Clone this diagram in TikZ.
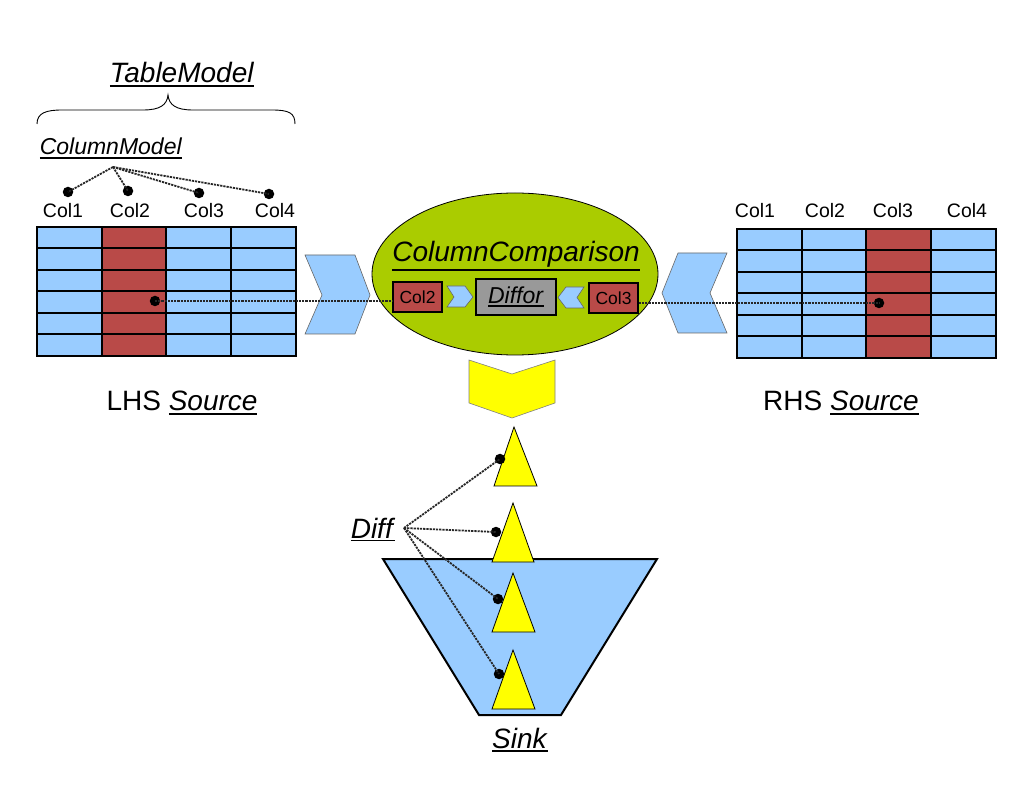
\documentclass[tikz,border=0pt]{standalone}
\usepackage{fontspec}
\setmainfont{Liberation Sans}
\usetikzlibrary{shapes.geometric}
\definecolor{cellblue}{RGB}{153,204,255}
\definecolor{cellred}{RGB}{185,74,72}
\definecolor{olivegreen}{RGB}{170,204,0}
\definecolor{boxgray}{RGB}{153,153,153}
\definecolor{yel}{RGB}{255,255,0}
\newcommand\fsz[1]{\fontsize{#1}{#1}\selectfont}
\newsavebox\ulbox
\newcommand\ulx[1]{\sbox\ulbox{#1}\leavevmode\rlap{\vrule height \dimexpr-\dp\ulbox-1.6pt\relax depth \dimexpr\dp\ulbox+3.4pt\relax width \wd\ulbox}\usebox\ulbox}
\begin{document}
\begin{tikzpicture}[x=1pt,y=-1pt,
  tbl/.style={line width=2pt, line cap=rect},
  lbl/.style={inner sep=0pt, anchor=base, font=\fsz{19.5}},
  big/.style={inner sep=0pt, anchor=base, font=\fsz{28}},
  chev/.style={fill=cellblue, draw=black!60, line width=0.6pt, line join=miter},
  ychev/.style={fill=yel, draw=black!50, line width=0.6pt},
  tri/.style={fill=yel, draw=black, line width=0.8pt, line join=miter},
  dotl/.style={dash pattern=on 2.2pt off 1pt, line width=1.8pt, black!85},
  dot/.style={circle, fill=black, inner sep=0pt, minimum size=10.5pt},
  cbox/.style={draw=black, line width=1.6pt, inner sep=0pt, font=\fsz{17.5}}
]
\useasboundingbox (0,0) rectangle (1034,799);

% ---------- TableModel brace ----------
\node[big] (tm) at (182,83) {\ulx{\textit{TableModel}}};
\draw[line width=0.9pt] (37,124) .. controls (37,113) and (46,110) .. (62,110) -- (143,110)
   .. controls (160,110) and (167,105) .. (168,95)
   .. controls (169,105) and (176,110) .. (193,110) -- (272,110)
   .. controls (289,110) and (295,113) .. (295,124);

% ---------- ColumnModel ----------
\node[inner sep=0pt, anchor=base, font=\fsz{23}] (cm) at (111,155) {\ulx{\textit{ColumnModel}}};
\coordinate (cmA) at (113,167);
\node[dot] (d1) at (68,192) {};
\node[dot] (d2) at (128,191) {};
\node[dot] (d3) at (199,193) {};
\node[dot] (d4) at (269,194) {};
\foreach \d in {d1,d2,d3,d4} \draw[dotl] (cmA) -- (\d.center);

% ---------- LHS table ----------
\node[lbl] (l1) at (63,218) {Col1};
\node[lbl] (l2) at (130,218) {Col2};
\node[lbl] (l3) at (204,218) {Col3};
\node[lbl] (l4) at (275,218) {Col4};
\fill[cellblue] (37,227) rectangle (296,356);
\fill[cellred] (102,227) rectangle (166,356);
\foreach \x in {37,102,166,231,296} \draw[tbl] (\x,227) -- (\x,356);
\foreach \y in {227,248.5,270,291.5,313,334.5,356} \draw[tbl] (37,\y) -- (296,\y);
\node[big] (lhs) at (182,411) {LHS \ulx{\textit{Source}}};

% ---------- RHS table ----------
\node[lbl] (r1) at (755,218) {Col1};
\node[lbl] (r2) at (825,218) {Col2};
\node[lbl] (r3) at (893,218) {Col3};
\node[lbl] (r4) at (967,218) {Col4};
\fill[cellblue] (737,229) rectangle (996,358);
\fill[cellred] (866,229) rectangle (931,358);
\foreach \x in {737,802,866,931,996} \draw[tbl] (\x,229) -- (\x,358);
\foreach \y in {229,250.5,272,293.5,315,336.5,358} \draw[tbl] (737,\y) -- (996,\y);
\node[big] (rhs) at (841,411) {RHS \ulx{\textit{Source}}};

% ---------- big chevrons ----------
\draw[chev] (305,255) -- (355,255) -- (370,295) -- (355,334) -- (305,334) -- (322,295) -- cycle;
\draw[chev] (727,253) -- (678,253) -- (662,293) -- (678,333) -- (727,333) -- (710,293) -- cycle;

% ---------- ColumnComparison ----------
\node[ellipse, draw=black, line width=0.8pt, fill=olivegreen, minimum width=286pt, minimum height=162pt] (cc) at (515,274) {};
\node[inner sep=0pt, anchor=base, font=\fsz{28}] (cct) at (516,262) {\ulx{\textit{ColumnComparison}}};
\node[cbox, fill=cellred, minimum width=49pt, minimum height=30pt] (bc2) at (417.5,297) {Col2};
\node[cbox, fill=cellred, minimum width=49pt, minimum height=30pt] (bc3) at (613.5,298) {Col3};
\node[cbox, fill=boxgray, minimum width=80pt, minimum height=36pt, font=\fsz{23}] (diffor) at (516,297) {\ulx{\textit{Diffor}}};
\draw[chev] (447,286) -- (465,286) -- (473,297) -- (465,307) -- (447,307) -- (454,297) -- cycle;
\draw[chev] (584,287) -- (566,287) -- (558,297.5) -- (566,308) -- (584,308) -- (577,297.5) -- cycle;

% ---------- dotted links tables -> boxes ----------
\node[dot] (ld) at (155,301) {};
\node[dot] (rd) at (879,303) {};
\draw[dotl] (ld.center) -- (bc2.west |- ld.center);
\draw[dotl] (bc3.east |- rd.center) -- (rd.center);

% ---------- yellow chevron ----------
\draw[ychev] (469,360) -- (512,374) -- (555,360) -- (555,403) -- (512,418) -- (469,403) -- cycle;

% ---------- Sink ----------
\draw[fill=cellblue, line width=2pt, line join=miter] (383,559) -- (657,559) -- (561,715) -- (479,715) -- cycle;
\node[big] (sink) at (520,748) {\ulx{\textit{Sink}}};

% ---------- triangles ----------
\draw[tri] (514,427) -- (537,486) -- (494,486) -- cycle;
\draw[tri] (513,503) -- (534,562) -- (492,562) -- cycle;
\draw[tri] (513,573) -- (535,632) -- (492,632) -- cycle;
\draw[tri] (513,650) -- (535,709) -- (492,709) -- cycle;

% ---------- Diff ----------
\node[big] (diff) at (373,538) {\ulx{\textit{Diff}}};
\coordinate (dA) at (404,528);
\node[dot] (t1) at (500,459) {};
\node[dot] (t2) at (496,532) {};
\node[dot] (t3) at (498,599) {};
\node[dot] (t4) at (499,674) {};
\foreach \t in {t1,t2,t3,t4} \draw[dotl] (dA) -- (\t.center);
\end{tikzpicture}
\end{document}
